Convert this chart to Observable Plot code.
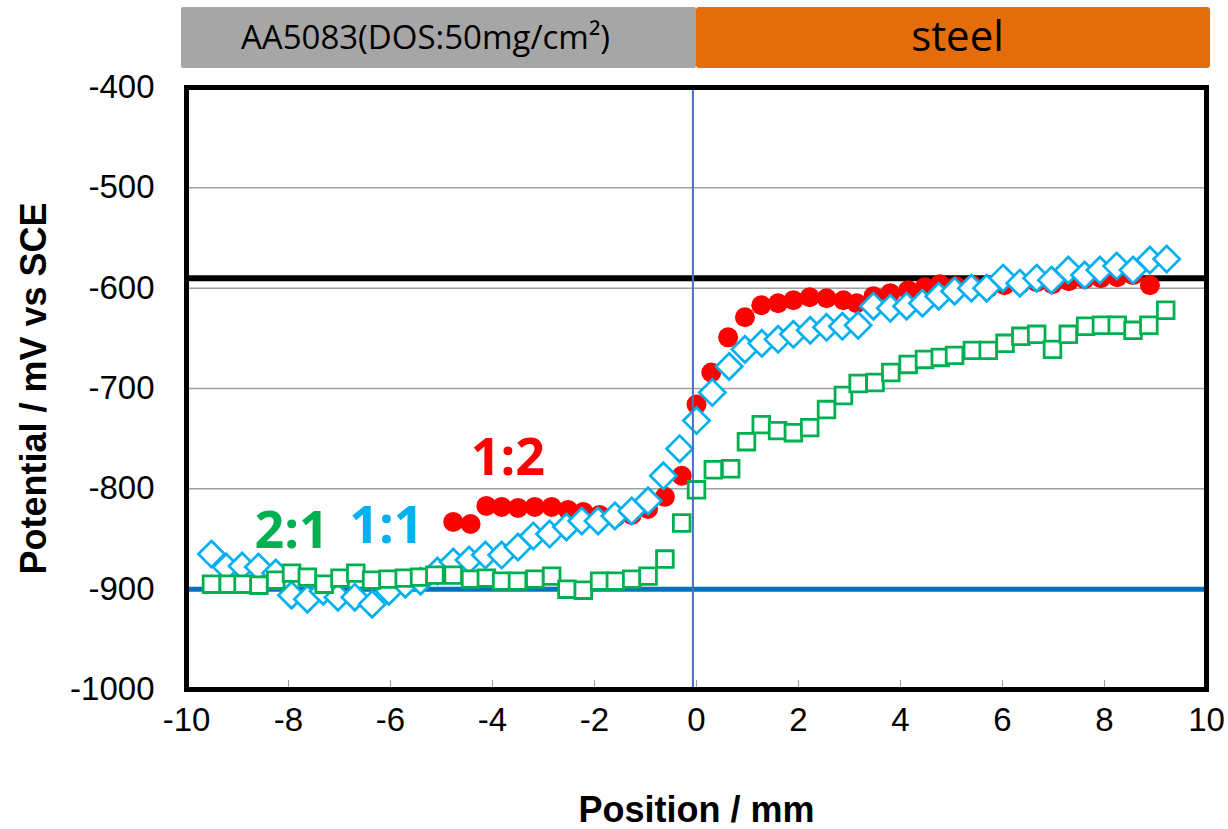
<!DOCTYPE html>
<html>
<head>
<meta charset="utf-8">
<script src="https://cdn.jsdelivr.net/npm/d3@7"></script>
<script src="https://cdn.jsdelivr.net/npm/@observablehq/plot@0.6"></script>
<style>
  html, body { margin: 0; padding: 0; background: #fff; }
  #chart { width: 1228px; height: 829px; position: relative; }
  svg { display: block; }
</style>
</head>
<body>
<div id="chart"></div>
<script>
// ---- data ----
const xTicks = [-10, -8, -6, -4, -2, 0, 2, 4, 6, 8, 10];
const yTicks = [-400, -500, -600, -700, -800, -900, -1000];
const gridValues = [-500, -600, -700, -800, -900];

const regionNames = ["AA5083(DOS:50mg/cm²)", "steel"];
const regionStart = [-10, 0];
const regionEnd = [0, 10];
const regionColors = ["#A6A6A6", "#E46C0A"];

const refLineBlack = -590;   // horizontal black reference
const refLineBlue = -900;    // horizontal blue reference
const interfaceX = -0.07;    // vertical boundary line

// 1:2 (red filled circles)
const redX = [-4.77,-4.43,-4.12,-3.82,-3.50,-3.17,-2.84,-2.52,-2.22,-1.90,-1.58,-1.27,-0.95,-0.62,-0.29,0.00,0.29,0.62,0.95,1.27,1.60,1.90,2.22,2.55,2.88,3.14,3.47,3.80,4.15,4.48,4.77,5.09,5.41,5.72,6.04,6.35,6.67,6.98,7.30,7.61,7.93,8.25,8.56,8.89];
const redY = [-833,-835,-817,-818,-819,-818,-818,-821,-823,-826,-828,-826,-820,-808,-787,-716,-684,-649,-629,-617,-615,-612,-609,-610,-612,-615,-608,-605,-602,-599,-596,-598,-597,-600,-597,-596,-594,-596,-593,-591,-590,-589,-587,-597];

// 1:1 (light blue open diamonds)
const blueX = [-9.51,-9.22,-8.91,-8.59,-8.25,-7.94,-7.63,-7.32,-7.03,-6.70,-6.36,-6.03,-5.71,-5.41,-5.08,-4.77,-4.46,-4.14,-3.82,-3.50,-3.20,-2.88,-2.55,-2.25,-1.93,-1.60,-1.27,-0.95,-0.65,-0.33,0.00,0.31,0.64,0.95,1.28,1.60,1.90,2.23,2.55,2.86,3.17,3.47,3.80,4.12,4.43,4.75,5.06,5.39,5.69,6.01,6.34,6.67,6.96,7.29,7.61,7.91,8.24,8.56,8.89,9.22];
const blueY = [-865,-878,-877,-878,-884,-906,-910,-902,-908,-908,-915,-902,-895,-892,-882,-873,-871,-866,-866,-858,-847,-845,-838,-832,-832,-827,-822,-812,-787,-760,-732,-704,-678,-661,-655,-651,-646,-642,-639,-638,-637,-618,-620,-618,-615,-608,-603,-600,-600,-590,-595,-590,-592,-582,-587,-582,-578,-582,-572,-571];

// 2:1 (green open squares)
const greenX = [-9.51,-9.18,-8.89,-8.58,-8.25,-7.94,-7.63,-7.30,-6.99,-6.68,-6.37,-6.05,-5.73,-5.43,-5.13,-4.77,-4.43,-4.12,-3.82,-3.51,-3.17,-2.84,-2.54,-2.22,-1.90,-1.59,-1.27,-0.95,-0.62,-0.29,0.00,0.33,0.67,0.98,1.27,1.59,1.90,2.22,2.55,2.88,3.17,3.50,3.81,4.15,4.47,4.78,5.06,5.41,5.72,6.05,6.36,6.67,6.98,7.29,7.63,7.94,8.25,8.56,8.87,9.20];
const greenY = [-895,-895,-895,-896,-891,-884,-888,-895,-889,-884,-891,-890,-889,-888,-886,-886,-890,-889,-892,-892,-890,-887,-900,-901,-892,-892,-890,-887,-870,-834,-801,-781,-780,-753,-736,-742,-744,-739,-721,-707,-695,-694,-684,-676,-671,-669,-667,-662,-662,-655,-648,-646,-661,-646,-638,-637,-637,-642,-637,-622];

// series labels
const labelText = ["1:2", "1:1", "2:1"];
const labelX = [-3.7, -6.08, -7.94];
const labelY = [-770, -837, -842];
const labelColor = ["#FF0000", "#00B0F0", "#00B050"];

// ---- build tables ----
const toPts = (xs, ys) => xs.map((x, i) => ({x, y: ys[i]}));
const red = toPts(redX, redY);
const blue = toPts(blueX, blueY);
const green = toPts(greenX, greenY);
const regions = regionNames.map((n, i) => ({name: n, x1: regionStart[i], x2: regionEnd[i], color: regionColors[i], mid: (regionStart[i] + regionEnd[i]) / 2}));
const labels = labelText.map((t, i) => ({t, x: labelX[i], y: labelY[i], c: labelColor[i]}));

const W = 1228, ML = 186, MR = 22;
const FONT = "'Liberation Sans', Arial, sans-serif";

// ---- header strip ----
const header = Plot.plot({
  width: W, height: 70,
  marginLeft: ML, marginRight: MR, marginTop: 7, marginBottom: 2,
  x: {domain: [-10, 10], axis: null},
  style: {fontFamily: "'Open Sans', sans-serif", background: "transparent"},
  marks: [
    Plot.rect([regions[0]], {x1: "x1", x2: "x2", fill: "color", insetLeft: -5, rx: 2}),
    Plot.rect([regions[1]], {x1: "x1", x2: "x2", fill: "color", insetRight: -4, rx: 3}),
    Plot.text([regions[0]], {x: "mid", frameAnchor: "middle", text: "name", fontSize: 33, fill: "black", dx: -16}),
    Plot.text([regions[1]], {x: "mid", frameAnchor: "middle", text: "name", fontSize: 42, fill: "black", dx: 6})
  ]
});

// ---- main chart ----
const main = Plot.plot({
  width: W, height: 759,
  marginLeft: ML, marginRight: MR, marginTop: 17, marginBottom: 140,
  x: {domain: [-10, 10]},
  y: {domain: [-1000, -400]},
  style: {fontFamily: FONT, background: "white", overflow: "visible"},
  marks: [
    Plot.ruleY(gridValues, {stroke: "#A0A0A0", strokeWidth: 1.5}),
    Plot.ruleY([refLineBlack], {stroke: "black", strokeWidth: 6}),
    Plot.ruleY([refLineBlue], {stroke: "#0070C0", strokeWidth: 5}),
    Plot.dot(red, {x: "x", y: "y", r: 10, fill: "#FF0000", stroke: "none"}),
    Plot.dot(blue, {x: "x", y: "y", r: 11.8, symbol: "diamond2", fill: "white", stroke: "#00B0F0", strokeWidth: 2.7}),
    Plot.dot(green, {x: "x", y: "y", r: 9.4, symbol: "square", fill: "white", stroke: "#00B050", strokeWidth: 2.8}),
    Plot.ruleX([interfaceX], {stroke: "#4472C4", strokeWidth: 2}),
    Plot.text(labels, {x: "x", y: "y", text: "t", fill: "c", fontSize: 52, fontWeight: "bold",
      fontFamily: "'Open Sans', sans-serif"}),
    Plot.axisX({ticks: xTicks, tickSize: -9, stroke: "#999", text: null, label: null}),
    Plot.axisX({ticks: xTicks, tickSize: 0, tickPadding: 18, fontSize: 33, fill: "black",
      tickFormat: d => String(d), label: "Position / mm", labelAnchor: "center",
      labelOffset: 132, labelArrow: "none"}),
    Plot.axisY({ticks: yTicks, tickSize: 0, tickPadding: 32, fontSize: 33, fill: "black",
      tickFormat: d => String(d), label: "Potential / mV vs SCE", labelAnchor: "center",
      labelOffset: 166, labelArrow: "none"}),
    Plot.frame({stroke: "black", strokeWidth: 5})
  ]
});

// style axis titles bold and sized
main.querySelectorAll("[aria-label='x-axis label'] text, [aria-label='y-axis label'] text").forEach(t => {
  t.setAttribute("font-weight", "bold");
  t.setAttribute("font-size", "36");
});

const root = document.getElementById("chart");
root.appendChild(header);
root.appendChild(main);
</script>
</body>
</html>
